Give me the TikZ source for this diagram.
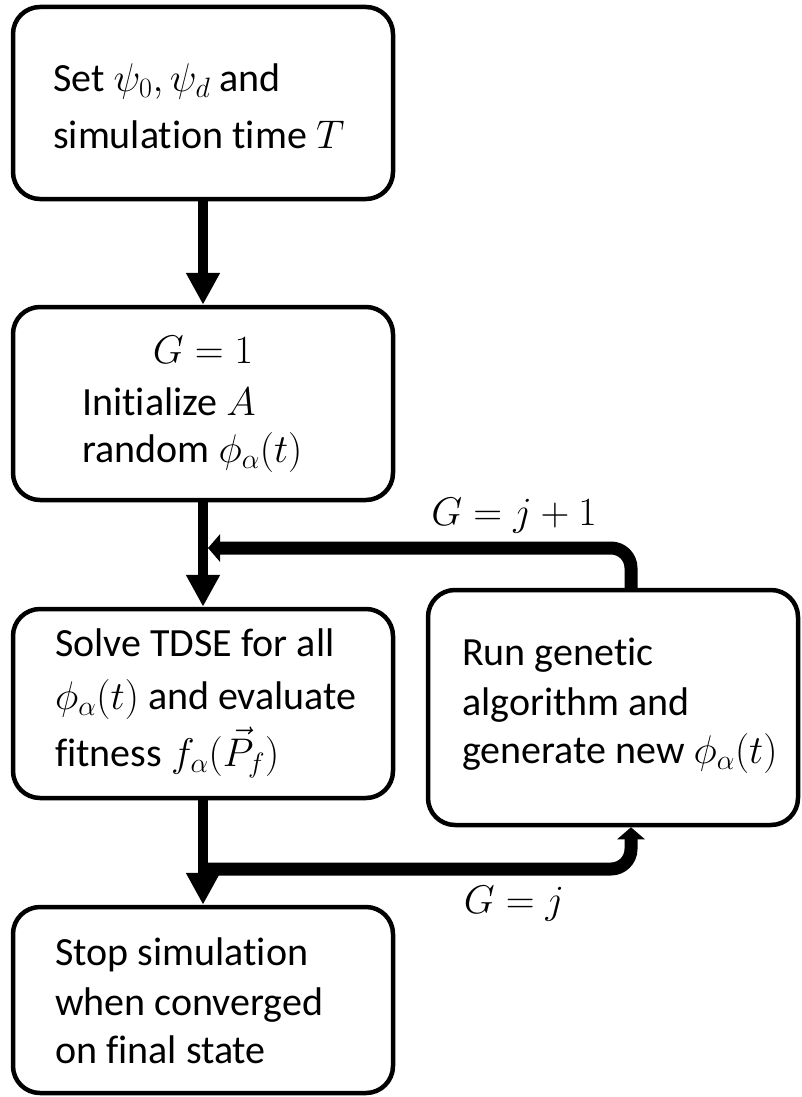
\RequirePackage{fix-cm}
\documentclass[tikz,border=0pt]{standalone}
\usepackage{fontspec}
\setmainfont{Carlito}[Ligatures={NoCommon}]
\usetikzlibrary{arrows.meta}
\begin{document}
\begin{tikzpicture}[x=1pt,y=-1pt,
  box/.style={draw, line width=4.5pt, rounded corners=27pt, inner sep=0pt},
  txt/.style={anchor=base west, inner sep=0pt, font=\fontsize{40}{48}\selectfont},
  lbl/.style={anchor=base, inner sep=0pt, font=\fontsize{40}{48}\selectfont},
  straight/.style={line width=10pt, -{Triangle[width=32pt,length=32pt]}},
  elbow/.style={line width=13pt, rounded corners=20pt, -{Triangle[width=27pt,length=12pt]}}]
\useasboundingbox (0,0) rectangle (801,1097);
% boxes
\node[box, minimum width=380pt, minimum height=192pt] (b1) at (203,103) {};
\node[box, minimum width=380pt, minimum height=193pt] (b2) at (203,403.5) {};
\node[box, minimum width=380pt, minimum height=189pt] (b3) at (203,703.5) {};
\node[box, minimum width=370pt, minimum height=235pt] (b4) at (613,707.5) {};
\node[box, minimum width=380pt, minimum height=186pt] (b5) at (203,1000) {};
% texts
\node[txt] (t1a) at (53,92) {Set $\psi_0, \psi_d$ and};
\node[txt] (t1b) at (53,148) {simulation time $T$};
\node[lbl] (t2a) at (203,363) {$G=1$};
\node[txt] (t2b) at (82,415) {Initialize $A$};
\node[txt] (t2c) at (82,462) {random $\phi_\alpha(t)$};
\node[txt] (t3a) at (55,656) {Solve TDSE for all};
\node[txt] (t3b) at (55,709) {$\phi_\alpha(t)$ and evaluate};
\node[txt] (t3c) at (55,766) {fitness $f_\alpha(\vec{P}_f)$};
\node[txt] (t4a) at (462,665) {Run genetic};
\node[txt] (t4b) at (462,715) {algorithm and};
\node[txt] (t4c) at (462,763) {generate new $\phi_\alpha(t)$};
\node[txt] (t5a) at (55,965) {Stop simulation};
\node[txt] (t5b) at (55,1015) {when converged};
\node[txt] (t5c) at (55,1063) {on final state};
\node[lbl] (l1) at (514,525) {$G=j+1$};
\node[lbl] (l2) at (514,913) {$G=j$};
% connectors
\draw[straight] (b1) -- (b2);
\draw[straight] (b2) -- (b3);
\draw[straight] (b3) -- (b5);
\coordinate (fbc) at (631,548);
\coordinate (fbend) at (208,548);
\coordinate (fwd) at (203,869);
\draw[elbow] (b4.north -| fbc) |- (fbend);
\draw[elbow] (fwd) -| (b4.south -| fbc);
\end{tikzpicture}
\end{document}
